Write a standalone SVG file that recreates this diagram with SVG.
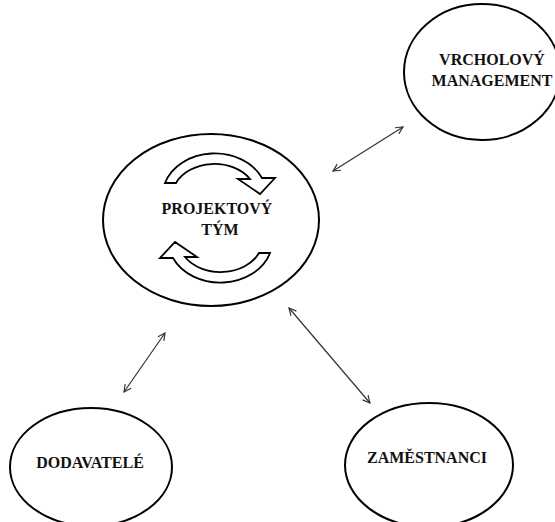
<svg xmlns="http://www.w3.org/2000/svg" width="555" height="522" viewBox="0 0 555 522">
<style>
.node{fill:#fff;stroke:#000;stroke-width:2}
.lbl{font-family:"Liberation Serif","Times New Roman",serif;font-weight:bold;font-size:16px;fill:#111;text-anchor:middle}
.cyc{fill:#fff;stroke:#000;stroke-width:1.8;stroke-linejoin:miter}
.con{stroke:#333;stroke-width:1.2;fill:none;marker-start:url(#ah);marker-end:url(#ah)}
</style>
<defs>
<marker id="ah" viewBox="0 0 10 10" refX="9" refY="5" markerWidth="9" markerHeight="9" markerUnits="userSpaceOnUse" orient="auto-start-reverse">
<path d="M1,1 L9,5 L1,9" fill="none" stroke="#333" stroke-width="1.3"/>
</marker>
<path id="cycArrow" d="M165,183 A52 42 0 0 1 262,178 L275,178 L260,194 L238,179 L250,179 A42 32 0 0 0 176,183 Z"/>
</defs>
<rect width="555" height="522" fill="#fff"/>
<g id="connectors">
<line class="con" x1="333" y1="171" x2="403" y2="127"/>
<line class="con" x1="165" y1="333" x2="124" y2="392"/>
<line class="con" x1="289" y1="308" x2="370" y2="403"/>
</g>
<g id="projektovy-tym">
<ellipse class="node" cx="211" cy="220" rx="108" ry="86"/>
<use href="#cycArrow" class="cyc"/>
<use href="#cycArrow" class="cyc" transform="rotate(180 217.5 218)"/>
<text class="lbl" x="217" y="214">PROJEKTOVÝ</text>
<text class="lbl" x="220" y="235">TÝM</text>
</g>
<g id="vrcholovy-management">
<ellipse class="node" cx="482" cy="72" rx="78" ry="68"/>
<text class="lbl" x="492" y="65">VRCHOLOVÝ</text>
<text class="lbl" x="492" y="86">MANAGEMENT</text>
</g>
<g id="dodavatele">
<ellipse class="node" cx="91" cy="467" rx="81" ry="59"/>
<text class="lbl" x="90" y="468">DODAVATELÉ</text>
</g>
<g id="zamestnanci">
<ellipse class="node" cx="429" cy="465" rx="84" ry="62"/>
<text class="lbl" x="427" y="463">ZAMĚSTNANCI</text>
</g>
</svg>
